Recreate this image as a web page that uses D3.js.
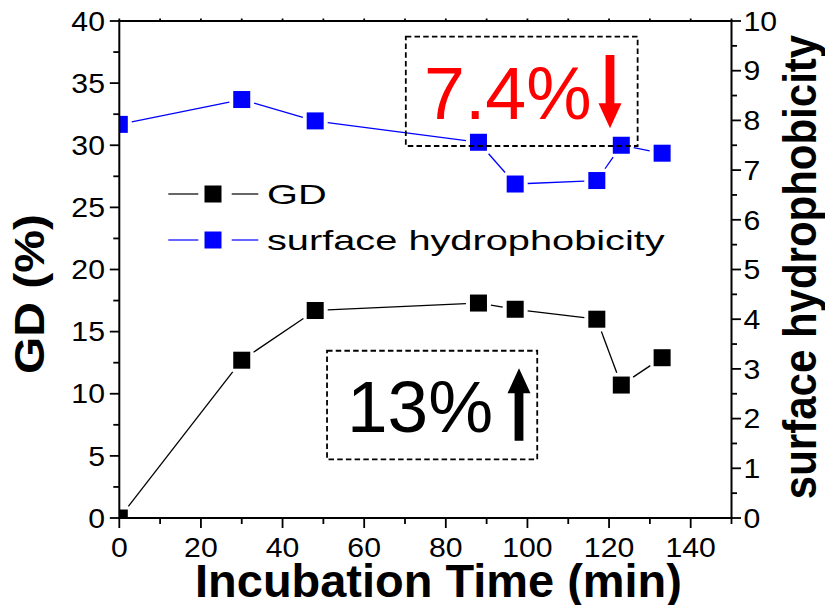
<!DOCTYPE html>
<html>
<head>
<meta charset="utf-8">
<script src="https://cdn.jsdelivr.net/npm/d3@7"></script>
<style>
  html, body { margin: 0; padding: 0; background: #fff; }
  svg { display: block; font-family: Arial, "Liberation Sans", sans-serif; }
</style>
</head>
<body>
<svg id="chart" width="825" height="605"></svg>
<script>
// Incubation time (min) and the two measured series
const times = [0, 30, 48, 88, 97, 117, 123, 133];
const gdValues = [0, 12.7, 16.7, 17.3, 16.8, 16.0, 10.7, 12.9];
const hydroValues = [7.92, 8.42, 7.99, 7.56, 6.72, 6.79, 7.50, 7.34];

const xTicks = [0, 20, 40, 60, 80, 100, 120, 140];
const gdTicks = [0, 5, 10, 15, 20, 25, 30, 35, 40];
const hydroTicks = [0, 1, 2, 3, 4, 5, 6, 7, 8, 9, 10];

const legendLabels = ["GD", "surface hydrophobicity"];
const seriesColors = ["#000000", "#0000ff"];

const svg = d3.select("#chart");
const plotL = 119.3, plotR = 731.5, plotT = 21, plotB = 518;

const x = d3.scaleLinear().domain([0, 150]).range([plotL, plotR]);
const yL = d3.scaleLinear().domain([0, 40]).range([plotB, plotT]);
const yR = d3.scaleLinear().domain([0, 10]).range([plotB, plotT]);

svg.append("defs").append("clipPath").attr("id", "plotClip")
  .append("rect").attr("x", plotL).attr("y", plotT)
  .attr("width", plotR - plotL).attr("height", plotB - plotT);

const MS = 17;      // marker size
const GAP = 4;      // gap between line end and marker edge

// Line segments that stop short of each square marker
function drawSeries(vals, yScale, color) {
  const pts = times.map((t, i) => [x(t), yScale(vals[i])]);
  const g = svg.append("g").attr("clip-path", "url(#plotClip)");
  const segs = d3.pairs(pts).map(([a, b]) => {
    const dx = b[0] - a[0], dy = b[1] - a[1];
    const len = Math.hypot(dx, dy);
    const ux = dx / len, uy = dy / len;
    const d = (MS / 2) / Math.max(Math.abs(ux), Math.abs(uy)) + GAP;
    return [a[0] + ux * d, a[1] + uy * d, b[0] - ux * d, b[1] - uy * d];
  });
  g.selectAll("line").data(segs).join("line")
    .attr("x1", d => d[0]).attr("y1", d => d[1])
    .attr("x2", d => d[2]).attr("y2", d => d[3])
    .attr("stroke", color).attr("stroke-width", 1.3);
  g.selectAll("rect").data(pts).join("rect")
    .attr("x", d => d[0] - MS / 2).attr("y", d => d[1] - MS / 2)
    .attr("width", MS).attr("height", MS)
    .attr("fill", color);
}

drawSeries(hydroValues, yR, seriesColors[1]);
drawSeries(gdValues, yL, seriesColors[0]);

// Axes frame
const frame = svg.append("g").attr("stroke", "#000").attr("stroke-width", 2);
frame.append("line").attr("x1", plotL).attr("x2", plotL).attr("y1", plotT - 1).attr("y2", plotB + 1);
frame.append("line").attr("x1", plotR).attr("x2", plotR).attr("y1", plotT - 1).attr("y2", plotB + 1);
frame.append("line").attr("x1", plotL - 1).attr("x2", plotR + 1).attr("y1", plotB).attr("y2", plotB);
frame.append("line").attr("x1", plotL - 1).attr("x2", plotR + 1).attr("y1", plotT).attr("y2", plotT);

const tickG = svg.append("g").attr("stroke", "#000").attr("stroke-width", 1.8);
// bottom ticks (outward) and short top ticks
d3.range(0, 151, 10).forEach(v => {
  const major = v % 20 === 0;
  tickG.append("line").attr("x1", x(v)).attr("x2", x(v))
    .attr("y1", plotB).attr("y2", plotB + (major ? 10 : 6));
  tickG.append("line").attr("x1", x(v)).attr("x2", x(v))
    .attr("y1", plotT).attr("y2", plotT - 2.5);
});
// left ticks
d3.range(0, 40.1, 2.5).forEach(v => {
  const major = v % 5 === 0;
  tickG.append("line").attr("y1", yL(v)).attr("y2", yL(v))
    .attr("x1", plotL).attr("x2", plotL - (major ? 9.5 : 6));
});
// right ticks
d3.range(0, 10.01, 0.5).forEach(v => {
  const major = Math.abs(v - Math.round(v)) < 1e-6;
  tickG.append("line").attr("y1", yR(v)).attr("y2", yR(v))
    .attr("x1", plotR).attr("x2", plotR + (major ? 9.5 : 5.5));
});

// Text helper with horizontal scaling
const tickFont = 27, tickSX = 1.12;
function label(txt, tx, ty, anchor, sx, size, opts = {}) {
  return svg.append("text")
    .attr("transform", `translate(${tx},${ty}) scale(${sx},1)`)
    .attr("text-anchor", anchor)
    .attr("font-size", size)
    .attr("fill", opts.fill || "#000")
    .attr("font-weight", opts.weight || "normal")
    .text(txt);
}
xTicks.forEach(v => label(String(v), x(v), 557, "middle", tickSX, tickFont));
gdTicks.forEach(v => label(String(v), 105, yL(v) + 9.7, "end", tickSX, tickFont));
hydroTicks.forEach(v => label(String(v), 743.5, yR(v) + 9.7, "start", tickSX, tickFont));

// Axis titles
label("Incubation Time (min)", 438.5, 596.7, "middle", 1.03, 45.6, { weight: "bold" });
svg.append("text")
  .attr("transform", "translate(44,294) rotate(-90) scale(1,0.9)")
  .attr("text-anchor", "middle").attr("font-size", 48).attr("font-weight", "bold")
  .text("GD (%)");
svg.append("text")
  .attr("transform", "translate(816,267) rotate(-90) scale(1,1.12)")
  .attr("text-anchor", "middle").attr("font-size", 42).attr("font-weight", "bold")
  .text("surface hydrophobicity");

// Legend
const legend = svg.append("g");
legendLabels.forEach((name, i) => {
  const ly = 194 + i * 46;
  const c = seriesColors[i];
  legend.append("line").attr("x1", 168.3).attr("x2", 198.3).attr("y1", ly).attr("y2", ly)
    .attr("stroke", c).attr("stroke-width", 1.2);
  legend.append("line").attr("x1", 231.7).attr("x2", 258.3).attr("y1", ly).attr("y2", ly)
    .attr("stroke", c).attr("stroke-width", 1.2);
  legend.append("rect").attr("x", 213 - MS / 2).attr("y", ly - MS / 2)
    .attr("width", MS).attr("height", MS).attr("fill", c);
  label(name, 267, ly + 9.5, "start", 1.42, 28);
});

// Annotation boxes: change in each measure
function dashedBox(x0, x1, y0, y1) {
  svg.append("rect")
    .attr("x", x(x0)).attr("y", yL(y1))
    .attr("width", x(x1) - x(x0)).attr("height", yL(y0) - yL(y1))
    .attr("fill", "none").attr("stroke", "#000")
    .attr("stroke-width", 1.8).attr("stroke-dasharray", "5.5,3.2");
}
function arrow(cx, yTail, yTip, color) {
  const dir = yTip > yTail ? 1 : -1;
  const hw = 11.5, hh = 25, sw = 4.4;
  const yBase = yTip - dir * hh;
  const path = [
    [cx - sw, yTail], [cx + sw, yTail], [cx + sw, yBase], [cx + hw, yBase],
    [cx, yTip], [cx - hw, yBase], [cx - sw, yBase]
  ];
  svg.append("path").attr("d", d3.line()(path) + "Z").attr("fill", color);
}

dashedBox(70.2, 127, 29.94, 38.74);
label("7.4%", 424, 119.3, "start", 1.0, 73.5, { fill: "#ff0000" });
arrow(610, 55, 128.3, "#ff0000");

dashedBox(50.9, 102.4, 4.72, 13.46);
label("13%", 347, 431.7, "start", 1.0, 73);
arrow(519, 440.7, 368.3, "#000000");
</script>
</body>
</html>
